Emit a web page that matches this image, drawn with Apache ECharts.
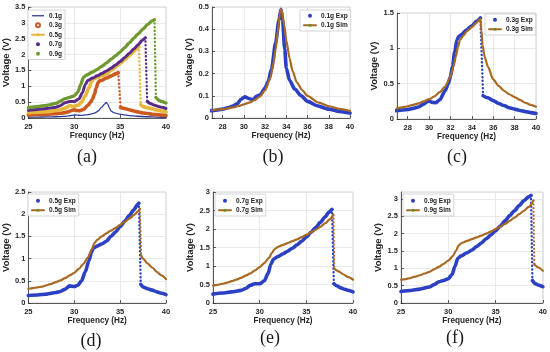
<!DOCTYPE html>
<html><head><meta charset="utf-8">
<script src="https://cdn.jsdelivr.net/npm/echarts@6/dist/echarts.min.js"></script>
<style>html,body{margin:0;padding:0;background:#fff}#c{width:550px;height:352px}</style>
</head><body><div id="c"></div>
<script>
// ---------- DATA (frequency Hz, voltage V) ----------
const panelLabels = ['(a)', '(b)', '(c)', '(d)', '(e)', '(f)'];
const levels = ['0.1g', '0.3g', '0.5g', '0.7g', '0.9g'];

// 0.1 g
const exp01 = [[25,0.028],[26,0.03],[27,0.033],[28,0.04],[28.5,0.046],[28.9,0.053],[29.4,0.065],[29.7,0.083],[30.1,0.095],[30.5,0.087],[30.9,0.083],[31.2,0.098],[31.55,0.105],[32,0.135],[32.3,0.165],[32.6,0.22],[33,0.34],[33.3,0.44],[33.5,0.49],[33.65,0.44],[33.85,0.31],[34,0.225],[34.3,0.17],[34.8,0.13],[35.4,0.1],[36,0.075],[36.9,0.055],[38,0.04],[39,0.03],[40,0.022]];
const sim01 = [[27,0.035],[28,0.04],[29,0.048],[29.5,0.054],[30,0.061],[30.5,0.069],[31,0.08],[31.5,0.096],[32,0.125],[32.5,0.18],[32.8,0.25],[33,0.31],[33.2,0.39],[33.4,0.47],[33.5,0.49],[33.6,0.48],[33.8,0.42],[34,0.35],[34.3,0.27],[34.6,0.21],[35,0.16],[35.5,0.125],[36,0.1],[37,0.07],[38,0.053],[39,0.041],[40,0.032]];

// 0.3 g
const exp03Up = [[25,0.1],[26,0.11],[27,0.12],[28,0.135],[28.5,0.15],[29,0.17],[29.5,0.21],[29.8,0.245],[30,0.255],[30.3,0.235],[30.6,0.23],[31,0.27],[31.5,0.4],[31.8,0.5],[32,0.6],[32.2,0.75],[32.4,0.95],[32.6,1.12],[32.8,1.17],[33,1.19],[33.5,1.26],[34,1.32],[34.5,1.39],[34.8,1.43]];
const exp03Down = [[35.05,0.33],[35.5,0.3],[36,0.26],[36.5,0.22],[37,0.19],[37.5,0.16],[38,0.14],[38.5,0.12],[39,0.105],[39.5,0.09],[40,0.078]];
const sim03 = [[27,0.15],[27.5,0.165],[28,0.18],[28.5,0.2],[29,0.22],[29.5,0.25],[30,0.28],[30.5,0.32],[31,0.38],[31.5,0.46],[32,0.6],[32.3,0.75],[32.5,0.88],[32.7,1.02],[32.9,1.12],[33.2,1.18],[33.6,1.25],[34,1.3],[34.4,1.36],[34.8,1.42],[34.9,1.25],[35,1.05],[35.2,0.88],[35.5,0.74],[36,0.56],[36.5,0.47],[37,0.4],[37.5,0.35],[38,0.31],[38.5,0.27],[39,0.23],[39.5,0.2],[40,0.175]];

// 0.5 g
const exp05Up = [[25,0.17],[26,0.18],[27,0.2],[28,0.235],[28.5,0.26],[29,0.31],[29.5,0.385],[30,0.37],[30.4,0.4],[30.8,0.5],[31.2,0.7],[31.6,0.95],[31.9,1.15],[32.1,1.24],[32.5,1.28],[33,1.33],[33.5,1.39],[34,1.5],[34.5,1.6],[35,1.72],[35.5,1.84],[36,1.97],[36.5,2.1],[36.9,2.22],[37.05,2.25]];
const exp05Down = [[37.25,0.42],[37.5,0.36],[38,0.32],[38.5,0.29],[39,0.25],[39.5,0.22],[40,0.19]];
const sim05Up = [[25,0.32],[25.5,0.335],[26,0.35],[26.5,0.37],[27,0.4],[27.5,0.43],[28,0.47],[28.5,0.51],[29,0.56],[29.5,0.62],[30,0.68],[30.5,0.77],[31,0.88],[31.5,1.03],[31.9,1.2],[32.2,1.35],[32.5,1.42],[33,1.5],[33.5,1.57],[34,1.63],[34.5,1.69],[35,1.76],[35.5,1.83],[36,1.9],[36.5,1.98],[37,2.07],[37.15,2.12]];
const sim05Down = [[37.3,1.07],[37.5,1.0],[38,0.89],[38.5,0.8],[39,0.7],[39.5,0.62],[40,0.54]];

// 0.7 g
const exp07Up = [[25,0.24],[26,0.27],[27,0.3],[28,0.34],[28.5,0.39],[29,0.48],[29.5,0.52],[30,0.52],[30.5,0.6],[30.9,0.8],[31.2,1.05],[31.5,1.19],[32,1.26],[32.5,1.33],[33,1.4],[33.5,1.48],[34,1.57],[34.5,1.67],[35,1.78],[35.5,1.91],[36,2.04],[36.5,2.18],[37,2.32],[37.4,2.45],[37.75,2.53]];
const exp07Down = [[37.95,0.52],[38.3,0.46],[38.7,0.41],[39,0.38],[39.5,0.34],[40,0.3]];
const sim07Up = [[25,0.47],[25.5,0.49],[26,0.52],[26.5,0.55],[27,0.59],[27.5,0.63],[28,0.68],[28.5,0.74],[29,0.8],[29.5,0.88],[30,0.97],[30.5,1.08],[31,1.22],[31.3,1.35],[31.6,1.46],[32,1.52],[32.5,1.57],[33,1.62],[33.5,1.67],[34,1.72],[34.5,1.78],[35,1.84],[35.5,1.91],[36,1.98],[36.5,2.06],[37,2.15],[37.5,2.26],[37.9,2.38]];
const sim07Down = [[38.0,0.92],[38.5,0.85],[39,0.77],[39.5,0.7],[40,0.63]];

// 0.9 g
const exp09Up = [[25,0.33],[26,0.36],[27,0.4],[28,0.46],[28.5,0.53],[29,0.61],[29.5,0.65],[30,0.7],[30.4,0.82],[30.7,1.05],[31,1.28],[31.3,1.35],[32,1.45],[32.5,1.53],[33,1.63],[33.5,1.73],[34,1.85],[34.5,1.96],[35,2.08],[35.5,2.22],[36,2.37],[36.5,2.52],[37,2.66],[37.5,2.81],[38,2.95],[38.5,3.06],[38.75,3.1]];
const exp09Down = [[38.9,0.65],[39.2,0.56],[39.5,0.52],[40,0.47]];
const sim09Up = [[25,0.67],[25.5,0.69],[26,0.72],[26.5,0.76],[27,0.8],[27.5,0.85],[28,0.9],[28.5,0.97],[29,1.04],[29.5,1.13],[30,1.22],[30.5,1.36],[30.8,1.5],[31.1,1.66],[31.4,1.73],[32,1.79],[32.5,1.84],[33,1.89],[33.5,1.94],[34,2.0],[34.5,2.06],[35,2.13],[35.5,2.2],[36,2.28],[36.5,2.37],[37,2.46],[37.5,2.56],[38,2.66],[38.5,2.77],[39,2.95]];
const sim09Down = [[39.1,1.12],[39.5,1.03],[40,0.93]];

// axis ranges
const xRanges = [[25,40],[27,40],[27,40],[25,40],[25,40],[25,40]];
const yRanges = [[0,3.5,0.5],[0,0.5,0.1],[0,1.5,0.5],[0,2.5,0.5],[0,3,0.5],[0,3.2,0.5]];

// ---------- STYLE / LAYOUT ----------
const fam = '"Liberation Sans", Arial, sans-serif';
const BLUE = '#2c40c4', SIMC = '#a86a22', SIMM = '#6b8e23';
const COLA = ['#2e3f9a', '#cc5a1e', '#e6b73a', '#5a2a88', '#6f9a32'];
const grids = [
  {left:24, top:7, width:142, height:111},
  {left:212, top:7, width:138, height:111},
  {left:397, top:13, width:139, height:106},
  {left:24, top:192, width:142, height:111},
  {left:213, top:192, width:140, height:111},
  {left:401, top:192, width:142, height:111}
];
const yGaps = [12, 16, 16, 12, 13, 13];
const xGaps = [14, 14, 14, 14, 14, 14];
const xNames = ['Frequncy (Hz)', 'Frequency (Hz)', 'Frequency (Hz)', 'Frequency (Hz)', 'Frequency (Hz)', 'Frequency (Hz)'];
const captionPos = [[87,157],[273,157],[457,157],[91,341],[270,338],[455,338]];

function lineS(name, data, gi, color, width, extra) {
  const s = {type:'line', name, data, xAxisIndex:gi, yAxisIndex:gi, showSymbol:false, symbol:'circle', symbolSize:3,
    smooth:0.25, smoothMonotone:'x', lineStyle:{color, width, cap:'round', join:'round'}, itemStyle:{color},
    emphasis:{disabled:true}, silent:true, animation:false};
  return Object.assign(s, extra || {});
}
function dropS(name, up, down, gi, color, width) {
  const w = Math.min(width, 2.4);
  return lineS(name, [up[up.length-1], down[0]], gi, color, w,
    {smooth:false, lineStyle:{color, width:w, type:[0.1, 3.6], cap:'round'}});
}
function splitS(name, up, down, gi, color, width, extra) {
  return [lineS(name, up, gi, color, width, extra), lineS(name, down, gi, color, width, extra), dropS(name, up, down, gi, color, width)];
}

const series = [];
// panel (a)
series.push(lineS(levels[0], exp01, 0, COLA[0], 1.3));
series.push(...splitS(levels[1], exp03Up, exp03Down, 0, COLA[1], 3.6));
series.push(...splitS(levels[2], exp05Up, exp05Down, 0, COLA[2], 3.6));
series.push(...splitS(levels[3], exp07Up, exp07Down, 0, COLA[3], 3));
series.push(...splitS(levels[4], exp09Up, exp09Down, 0, COLA[4], 3.3));
// panel (b)
const simExtra = {itemStyle:{color:SIMM}};
series.push(lineS('0.1g Exp', exp01, 1, BLUE, 3.6));
series.push(lineS('0.1g Sim', sim01, 1, SIMC, 2.2, simExtra));
// panel (c)
series.push(...splitS('0.3g Exp', exp03Up, exp03Down, 2, BLUE, 3.6));
series.push(lineS('0.3g Sim', sim03, 2, SIMC, 2.2, simExtra));
// panel (d)
series.push(...splitS('0.5g Exp', exp05Up, exp05Down, 3, BLUE, 3.6));
series.push(...splitS('0.5g Sim', sim05Up, sim05Down, 3, SIMC, 2.2, simExtra));
// panel (e)
series.push(...splitS('0.7g Exp', exp07Up, exp07Down, 4, BLUE, 3.6));
series.push(...splitS('0.7g Sim', sim07Up, sim07Down, 4, SIMC, 2.2, simExtra));
// panel (f)
series.push(...splitS('0.9g Exp', exp09Up, exp09Down, 5, BLUE, 3.6));
series.push(...splitS('0.9g Sim', sim09Up, sim09Down, 5, SIMC, 2.2, simExtra));

const labelStyle = {fontSize:7.5, fontWeight:'bold', color:'#262626', fontFamily:fam};
const xAxis = grids.map((g, i) => {
  const ax = {gridIndex:i, type:'value', min:xRanges[i][0], max:xRanges[i][1],
    name:xNames[i], nameLocation:'middle', nameGap:xGaps[i],
    nameTextStyle:{fontSize:8.2, fontWeight:'bold', color:'#262626', fontFamily:fam},
    axisLine:{show:true, onZero:false, lineStyle:{color:'#333', width:0.8}},
    axisTick:{show:true, inside:true, length:3, lineStyle:{color:'#333', width:0.8}},
    axisLabel:Object.assign({margin:5}, labelStyle),
    splitLine:{show:true, lineStyle:{color:'#e3e3e3', width:0.8}}};
  if (xRanges[i][0] === 27) { ax.minInterval = 2; ax.maxInterval = 2; ax.axisLabel.showMinLabel = false; }
  else { ax.interval = 5; }
  return ax;
});
const yAxis = grids.map((g, i) => {
  const ax = {gridIndex:i, type:'value', min:yRanges[i][0], max:yRanges[i][1], interval:yRanges[i][2],
    name:'Voltage (V)', nameLocation:'middle', nameGap:yGaps[i],
    nameTextStyle:{fontSize:9.5, fontWeight:'bold', color:'#262626', fontFamily:fam},
    axisLine:{show:true, onZero:false, lineStyle:{color:'#333', width:0.8}},
    axisTick:{show:true, inside:true, length:3, lineStyle:{color:'#333', width:0.8}},
    axisLabel:Object.assign({margin:3}, labelStyle),
    splitLine:{show:true, lineStyle:{color:'#e3e3e3', width:0.8}}};
  if (i === 5) ax.axisLabel.showMaxLabel = false;
  return ax;
});

const legText = {fontSize:6.5, fontWeight:'bold', color:'#222', fontFamily:fam, lineHeight:7.5};
function legend(left, top, data, pad) {
  return {left, top, orient:'vertical', data, itemWidth:12, itemHeight:4, itemGap:2, padding:pad || [2,3,2,3],
    textStyle:legText, backgroundColor:'#fff', borderColor:'#bbb', borderWidth:0.6, selectedMode:false};
}
const lineIcon = 'path://M0,0H12V1.3H0Z';
const legends = [
  legend(28, 10, [{name:levels[0], icon:lineIcon}, {name:levels[1], icon:'emptyCircle'}, {name:levels[2]}, {name:levels[3], icon:'circle'}, {name:levels[4], icon:'circle'}]),
  legend(300, 10, [{name:'0.1g Exp', icon:'circle'}, {name:'0.1g Sim'}]),
  legend(485, 14, [{name:'0.3g Exp', icon:'circle'}, {name:'0.3g Sim'}]),
  legend(28, 194, [{name:'0.5g Exp', icon:'circle'}, {name:'0.5g Sim'}], [3,3,2,3]),
  legend(215, 194, [{name:'0.7g Exp', icon:'circle'}, {name:'0.7g Sim'}], [3,3,2,3]),
  legend(403, 194, [{name:'0.9g Exp', icon:'circle'}, {name:'0.9g Sim'}], [3,3,2,3])
];

const graphic = panelLabels.map((t, i) => ({type:'text', x:captionPos[i][0], y:captionPos[i][1], silent:true,
  style:{text:t, fontSize:18, fontFamily:'"Liberation Serif", "Times New Roman", serif', fill:'#1a1a1a', align:'center', verticalAlign:'middle'}}));

const chart = echarts.init(document.getElementById('c'), null, {renderer:'canvas'});
chart.setOption({
  animation:false,
  backgroundColor:'#fff',
  grid:grids.map(g => Object.assign({show:true, borderColor:'#c8c8c8', borderWidth:0.8, backgroundColor:'transparent', containLabel:false}, g)),
  xAxis, yAxis, legend:legends, series, graphic
});
</script></body></html>
